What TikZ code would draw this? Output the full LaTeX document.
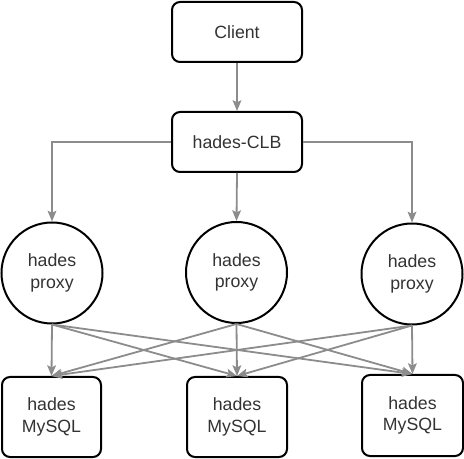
\documentclass[tikz,border=0pt]{standalone}
\usepackage{fontspec}
\setmainfont{Liberation Sans}
\usetikzlibrary{arrows.meta}
\definecolor{txt}{HTML}{333333}
\definecolor{edge}{HTML}{8C8C8C}
\tikzset{
  box/.style={draw=black, line width=1.5pt, rounded corners=6pt, fill=white,
    inner sep=0pt, align=center, text=txt,
    font=\fontsize{13.3pt}{16.3pt}\selectfont},
  ball/.style={draw=black, line width=1.5pt, circle, fill=white,
    inner sep=0pt, align=center, text=txt,
    font=\fontsize{13.3pt}{16.3pt}\selectfont},
  conn/.style={draw=edge, line width=1.35pt, -{Stealth[length=8pt,width=6.5pt,inset=1.5pt]}},
}
\begin{document}
\begin{tikzpicture}[x=0.75pt,y=-0.75pt]
\useasboundingbox (0,0) rectangle (464,459);
\node[box, minimum width=97.5pt, minimum height=45pt] (client) at (237,32) {Client};
\node[box, minimum width=97.5pt, minimum height=45pt] (clb) at (237,142) {hades-CLB};
\node[ball, minimum size=75.75pt] (p1) at (52,273) {hades\\proxy};
\node[ball, minimum size=75.75pt] (p2) at (236.5,272.5) {hades\\proxy};
\node[ball, minimum size=75.75pt] (p3) at (412,274) {hades\\proxy};
\node[box, minimum width=74.25pt, minimum height=60pt] (m1) at (51.5,417) {hades\\MySQL};
\node[box, minimum width=75pt, minimum height=60pt] (m2) at (237,417) {hades\\MySQL};
\node[box, minimum width=75.75pt, minimum height=60.75pt] (m3) at (412.5,415.5) {hades\\MySQL};
\draw[conn] (client.south) -- (clb.north);
\draw[conn] (clb.west) -| (p1.north);
\draw[conn] (clb.south) -- (p2.north);
\draw[conn] (clb.east) -| (p3.north);
\foreach \p in {p1,p2,p3}{
  \foreach \m in {m1,m2,m3}{
    \draw[conn] (\p.south) -- (\m.north);
  }
}
\end{tikzpicture}
\end{document}
